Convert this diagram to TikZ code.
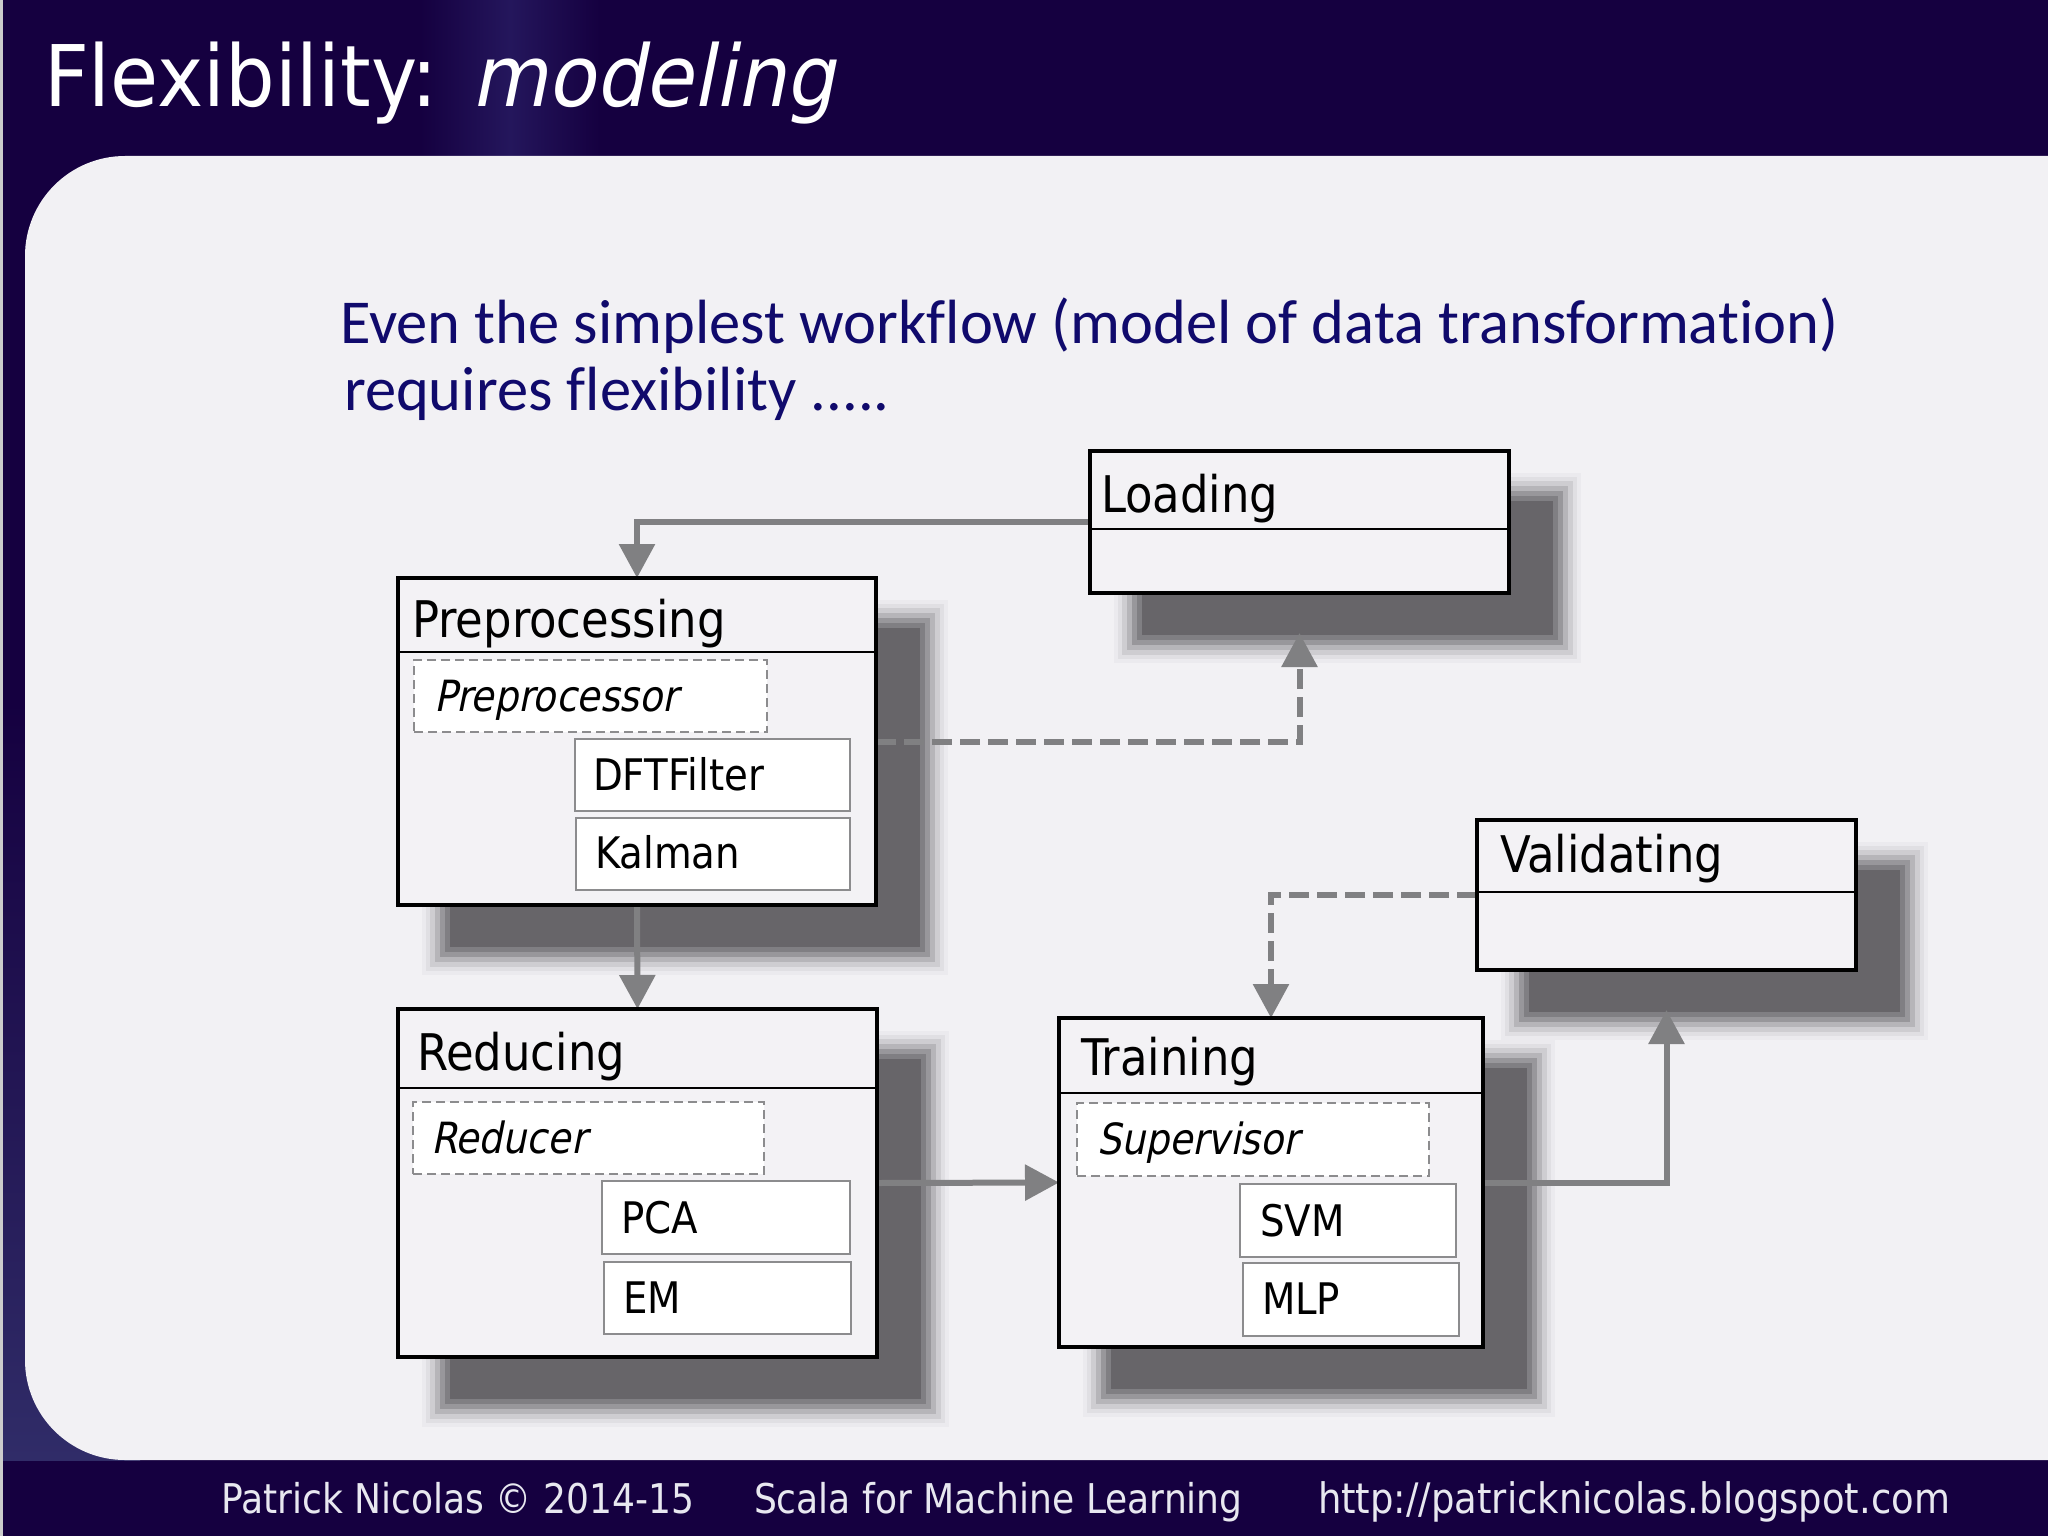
\documentclass[tikz,border=0pt]{standalone}
\usepackage{fontspec}
\usetikzlibrary{arrows.meta,calc}
\newfontfamily\boxfont[FakeStretch=0.89]{DejaVu Sans}
\newfontfamily\boxitfont[FakeStretch=0.88,FakeSlant=0.2]{DejaVu Sans}
\newfontfamily\innerfont[FakeStretch=0.89]{DejaVu Sans}
\newfontfamily\titlefont[FakeStretch=0.92]{DejaVu Sans}
\newfontfamily\titleitfont[FakeStretch=0.92,FakeSlant=0.2]{DejaVu Sans}
\newfontfamily\footfont[FakeStretch=0.88]{DejaVu Sans}
\newfontfamily\bodyfont[Ligatures=NoCommon]{Carlito}
\definecolor{navy}{RGB}{21,0,64}
\definecolor{navylight}{RGB}{36,22,92}
\definecolor{navyside}{RGB}{48,44,104}
\definecolor{slidebg}{RGB}{242,241,244}
\definecolor{boxbg}{RGB}{243,242,245}
\definecolor{bodyblue}{RGB}{16,10,108}
\definecolor{conncol}{RGB}{128,128,130}
\definecolor{innercol}{RGB}{140,140,142}
\definecolor{shcore}{RGB}{103,101,105}
\definecolor{sha}{RGB}{128,127,131}
\definecolor{shb}{RGB}{152,151,155}
\definecolor{shc}{RGB}{182,181,185}
\definecolor{shd}{RGB}{206,205,209}
\definecolor{she}{RGB}{224,223,227}
\definecolor{shf}{RGB}{235,234,238}
\definecolor{footcol}{RGB}{232,232,240}
\pgfdeclarelayer{bg}
\pgfdeclarelayer{shadow}
\pgfdeclarelayer{conns}
\pgfsetlayers{bg,shadow,conns,main}
\newcommand\myshadow[1]{%
  \fill[shf] ($(#1.north west)+(24,22)$) rectangle ($(#1.south east)+(72,70)$);
  \fill[she] ($(#1.north west)+(28,26)$) rectangle ($(#1.south east)+(68,66)$);
  \fill[shd] ($(#1.north west)+(32,30)$) rectangle ($(#1.south east)+(64,62)$);
  \fill[shc] ($(#1.north west)+(37,35)$) rectangle ($(#1.south east)+(59,57)$);
  \fill[shb] ($(#1.north west)+(42,40)$) rectangle ($(#1.south east)+(54,52)$);
  \fill[sha] ($(#1.north west)+(47,45)$) rectangle ($(#1.south east)+(49,47)$);
  \fill[shcore] ($(#1.north west)+(52,50)$) rectangle ($(#1.south east)+(44,42)$);
}
\begin{document}
\begin{tikzpicture}[x=1pt,y=-1pt,
  bigbox/.style={draw=black,line width=4pt,fill=boxbg,rectangle,anchor=north west,inner sep=0pt,outer sep=0pt},
  innerbox/.style={draw=innercol,line width=2.2pt,fill=white,rectangle,anchor=north west,inner sep=0pt,outer sep=0pt},
  dashbox/.style={draw=innercol,line width=1.8pt,dash pattern=on 9pt off 5pt,fill=white,rectangle,anchor=north west,inner sep=0pt,outer sep=0pt},
  divider/.style={draw=black,line width=2.5pt},
  lbl/.style={anchor=base west,inner sep=0pt,outer sep=0pt},
  boxtitle/.style={lbl,font=\boxfont\fontsize{50.5}{60}\selectfont},
  innerlbl/.style={lbl,font=\innerfont\fontsize{43.5}{52}\selectfont},
  italbl/.style={lbl,font=\boxitfont\fontsize{43}{52}\selectfont},
  conn/.style={draw=conncol,line width=6pt,-{Triangle[length=34pt,width=35pt]}},
  dconn/.style={conn,dash pattern=on 20pt off 8pt},
  foot/.style={lbl,text=footcol,font=\footfont\fontsize{41}{48}\selectfont}]
\useasboundingbox (0,0) rectangle (2048,1536);
\begin{pgfonlayer}{bg}
  \fill[navy] (0,0) rectangle (2048,1536);
  \shade[left color=navy,right color=navy,middle color=navylight] (420,0) rectangle (600,156);
  \shade[top color=navy,bottom color=navyside] (3,700) rectangle (140,1460);
  \fill[black!20] (0,0) rectangle (3,1536);
  \fill[slidebg,rounded corners=100pt] (25,156) rectangle (2300,1460);
\end{pgfonlayer}
% title
\node[lbl,text=white,font=\titlefont\fontsize{85}{100}\selectfont] (title) at (44,107)
  {Flexibility: {\titleitfont modeling}};
% body text
\node[lbl,text=bodyblue,font=\bodyfont\fontsize{62.5}{70}\selectfont] (body1) at (340,343)
  {Even the simplest workflow (model of data transformation)};
\node[lbl,text=bodyblue,font=\bodyfont\fontsize{62.5}{70}\selectfont] (body2) at (344,410)
  {requires flexibility .....};
% big boxes
\node[bigbox,minimum width=419pt,minimum height=142pt] (load) at (1090,451) {};
\node[bigbox,minimum width=478pt,minimum height=327pt] (prep) at (398,578) {};
\node[bigbox,minimum width=479pt,minimum height=348pt] (red) at (398,1009) {};
\node[bigbox,minimum width=424pt,minimum height=329pt] (train) at (1059,1018) {};
\node[bigbox,minimum width=379pt,minimum height=150pt] (valid) at (1477,820) {};
\draw[divider] ([yshift=-78pt]load.north west) -- ([yshift=-78pt]load.north east);
\draw[divider] ([yshift=-74pt]prep.north west) -- ([yshift=-74pt]prep.north east);
\draw[divider] ([yshift=-79pt]red.north west) -- ([yshift=-79pt]red.north east);
\draw[divider] ([yshift=-75pt]train.north west) -- ([yshift=-75pt]train.north east);
\draw[divider] ([yshift=-72pt]valid.north west) -- ([yshift=-72pt]valid.north east);
% inner boxes
\node[dashbox,minimum width=353pt,minimum height=72pt] (ppr) at (414,660) {};
\node[innerbox,minimum width=275pt,minimum height=72pt] (dft) at (575,739) {};
\node[innerbox,minimum width=274pt,minimum height=72pt] (kal) at (576,818) {};
\node[dashbox,minimum width=351pt,minimum height=72pt] (rdr) at (413,1102) {};
\node[innerbox,minimum width=248pt,minimum height=73pt] (pca) at (602,1181) {};
\node[innerbox,minimum width=247pt,minimum height=72pt] (em) at (604,1262) {};
\node[dashbox,minimum width=352pt,minimum height=73pt] (sup) at (1077,1103) {};
\node[innerbox,minimum width=216pt,minimum height=73pt] (svm) at (1240,1184) {};
\node[innerbox,minimum width=216pt,minimum height=73pt] (mlp) at (1243,1263) {};
% labels
\node[boxtitle] (loadt) at (1101,512) {Loading};
\node[boxtitle] (prept) at (412,637) {Preprocessing};
\node[boxtitle] (redt) at (417,1070) {Reducing};
\node[boxtitle] (traint) at (1081,1075) {Training};
\node[boxtitle] (validt) at (1500,872) {Validating};
\node[italbl] (pprt) at (434,711) {Preprocessor};
\node[innerlbl] (dftt) at (593,790) {DFTFilter};
\node[innerlbl] (kalt) at (595,868) {Kalman};
\node[italbl] (rdrt) at (431,1153) {Reducer};
\node[innerlbl] (pcat) at (621,1233) {PCA};
\node[innerlbl] (emt) at (623,1313) {EM};
\node[italbl] (supt) at (1097,1154) {Supervisor};
\node[innerlbl] (svmt) at (1260,1236) {SVM};
\node[innerlbl] (mlpt) at (1262,1314) {MLP};
% footer
\node[foot] (f1) at (221,1513) {Patrick Nicolas © 2014-15};
\node[foot] (f2) at (754,1513) {Scala for Machine Learning};
\node[foot,font=\footfont\fontsize{42}{48}\selectfont] (f3) at (1318,1513) {http://patricknicolas.blogspot.com};
% shadows
\begin{pgfonlayer}{shadow}
  \myshadow{load}
  \myshadow{prep}
  \myshadow{red}
  \myshadow{train}
  \myshadow{valid}
\end{pgfonlayer}
% connectors
\coordinate (loadin) at ($(load.south)+(0,40)$);
\coordinate (validin) at ($(valid.south)+(0,40)$);
\begin{pgfonlayer}{conns}
  \draw[conn] (load.west) -| (prep.north);
  \draw[dconn] (prep.east) -| (loadin);
  \draw[conn] (prep.south) -- (red.north);
  \draw[conn] (red.east) -- (train.west);
  \draw[conn] (train.east) -| (validin);
  \draw[dconn] (valid.west) -| (train.north);
\end{pgfonlayer}
\end{tikzpicture}
\end{document}
